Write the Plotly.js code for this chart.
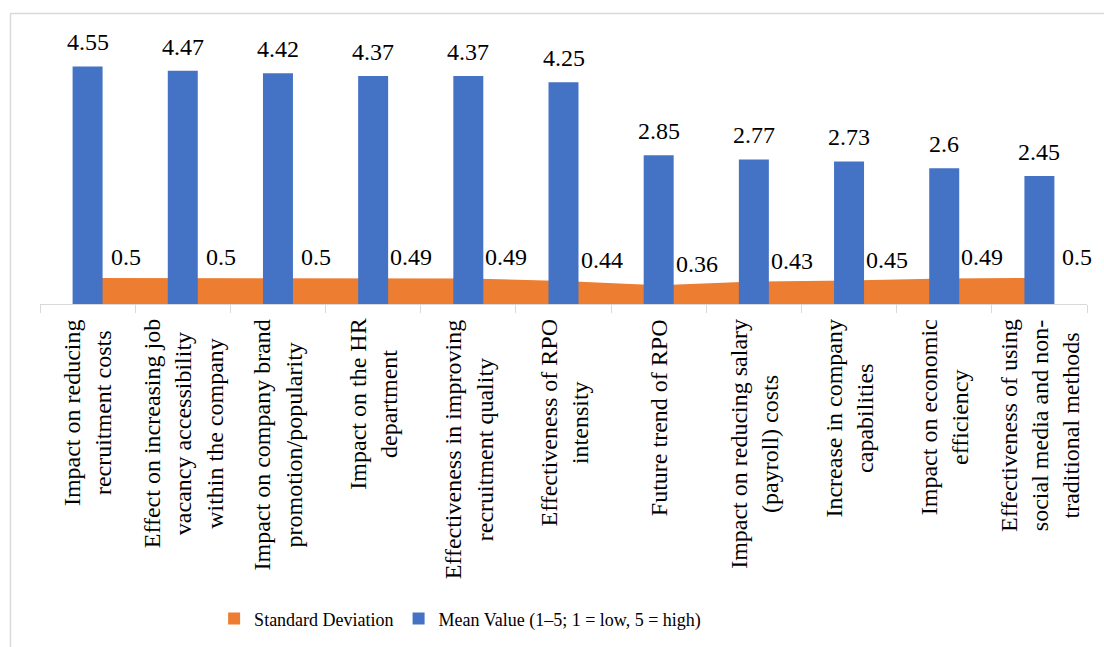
<!DOCTYPE html>
<html>
<head>
<meta charset="utf-8">
<script src="https://cdn.plot.ly/plotly-3.0.1.min.js"></script>
<style>
  html, body { margin: 0; padding: 0; background: #ffffff; }
  #chart { width: 1104px; height: 647px; }
</style>
</head>
<body>
<div id="chart"></div>
<script>
// Survey items (category keys) and their multi-line axis labels
const categories = [
  "Impact on reducing recruitment costs",
  "Effect on increasing job vacancy accessibility within the company",
  "Impact on company brand promotion/popularity",
  "Impact on the HR department",
  "Effectiveness in improving recruitment quality",
  "Effectiveness of RPO intensity",
  "Future trend of RPO",
  "Impact on reducing salary (payroll) costs",
  "Increase in company capabilities",
  "Impact on economic efficiency",
  "Effectiveness of using social media and non-traditional methods"
];
const tickLabels = [
  "Impact on reducing<br>recruitment costs",
  "Effect on increasing job<br>vacancy accessibility<br>within the company",
  "Impact on company brand<br>promotion/popularity",
  "Impact on the HR<br>department",
  "Effectiveness in improving<br>recruitment quality",
  "Effectiveness of RPO<br>intensity",
  "Future trend of RPO",
  "Impact on reducing salary<br>(payroll) costs",
  "Increase in company<br>capabilities",
  "Impact on economic<br>efficiency",
  "Effectiveness of using<br>social media and non-<br>traditional methods"
];
const meanValues = [4.55, 4.47, 4.42, 4.37, 4.37, 4.25, 2.85, 2.77, 2.73, 2.6, 2.45];
const stdDevValues = [0.5, 0.5, 0.5, 0.49, 0.49, 0.44, 0.36, 0.43, 0.45, 0.49, 0.5];

const seriesNames = ["Standard Deviation", "Mean Value (1–5; 1 = low, 5 = high)"];
const BLUE = "#4472C4";
const ORANGE = "#ED7D31";
const FONT = "'Liberation Serif', 'Times New Roman', serif";
const labelFont = { family: FONT, size: 24, color: "#000000" };

const traces = [
  // legend swatch for the area series (square key)
  {
    type: "bar", name: seriesNames[0], x: [null], y: [null],
    marker: { color: ORANGE }, xaxis: "x", yaxis: "y", hoverinfo: "skip"
  },
  // standard deviation as a filled area, kept underneath the bars
  {
    type: "scatter", mode: "lines", x: categories, y: stdDevValues,
    fill: "tozeroy", fillcolor: ORANGE, line: { color: ORANGE, width: 0 },
    showlegend: false, xaxis: "x", yaxis: "y", name: seriesNames[0]
  },
  // mean values as bars on an overlaid pair of axes so they sit on top
  {
    type: "bar", name: seriesNames[1], x: categories, y: meanValues,
    width: 0.315, marker: { color: BLUE }, xaxis: "x2", yaxis: "y2"
  }
];

const annotations = [];
categories.forEach((c, i) => {
  annotations.push({
    xref: "x2", yref: "y2", x: c, y: meanValues[i], text: String(meanValues[i]),
    showarrow: false, yanchor: "bottom", xanchor: "center", yshift: 9,
    font: labelFont
  });
  annotations.push({
    xref: "x", yref: "y", x: c, y: stdDevValues[i], text: String(stdDevValues[i]),
    showarrow: false, yanchor: "bottom", xanchor: "center", yshift: 6, xshift: 38,
    font: labelFont
  });
  annotations.push({
    xref: "x", yref: "paper", x: c, y: 0, text: tickLabels[i],
    showarrow: false, textangle: -90, align: "center",
    yanchor: "top", xanchor: "center", yshift: -13,
    font: labelFont
  });
});

const layout = {
  width: 1104, height: 647,
  margin: { l: 40, r: 17, t: 43, b: 342 },
  paper_bgcolor: "#ffffff", plot_bgcolor: "#ffffff",
  font: { family: FONT, size: 18, color: "#000000" },
  showlegend: true,
  legend: {
    orientation: "h", x: 0.1663, xanchor: "left", y: -1.198, yanchor: "middle",
    font: { family: FONT, size: 18, color: "#000000" },
    itemwidth: 30, traceorder: "normal"
  },
  xaxis: {
    type: "category", range: [-0.5, 10.5], showline: true, linecolor: "#d9d9d9",
    linewidth: 1, ticks: "outside", tickson: "boundaries", ticklen: 8,
    tickcolor: "#d9d9d9", showticklabels: false, showgrid: false, zeroline: false,
    fixedrange: true
  },
  yaxis: { range: [0, 5], visible: false, fixedrange: true },
  xaxis2: {
    type: "category", range: [-0.5, 10.5], overlaying: "x", visible: false,
    fixedrange: true
  },
  yaxis2: { range: [0, 5], overlaying: "y", visible: false, fixedrange: true },
  annotations: annotations,
  shapes: [{
    type: "rect", xref: "paper", yref: "paper",
    x0: -0.0282, x1: 1.1, y0: -2, y1: 1.1126,
    line: { color: "#d9d9d9", width: 1.5 }, fillcolor: "rgba(0,0,0,0)", layer: "below"
  }]
};

Plotly.newPlot("chart", traces, layout, { displayModeBar: false, staticPlot: true });
</script>
</body>
</html>
